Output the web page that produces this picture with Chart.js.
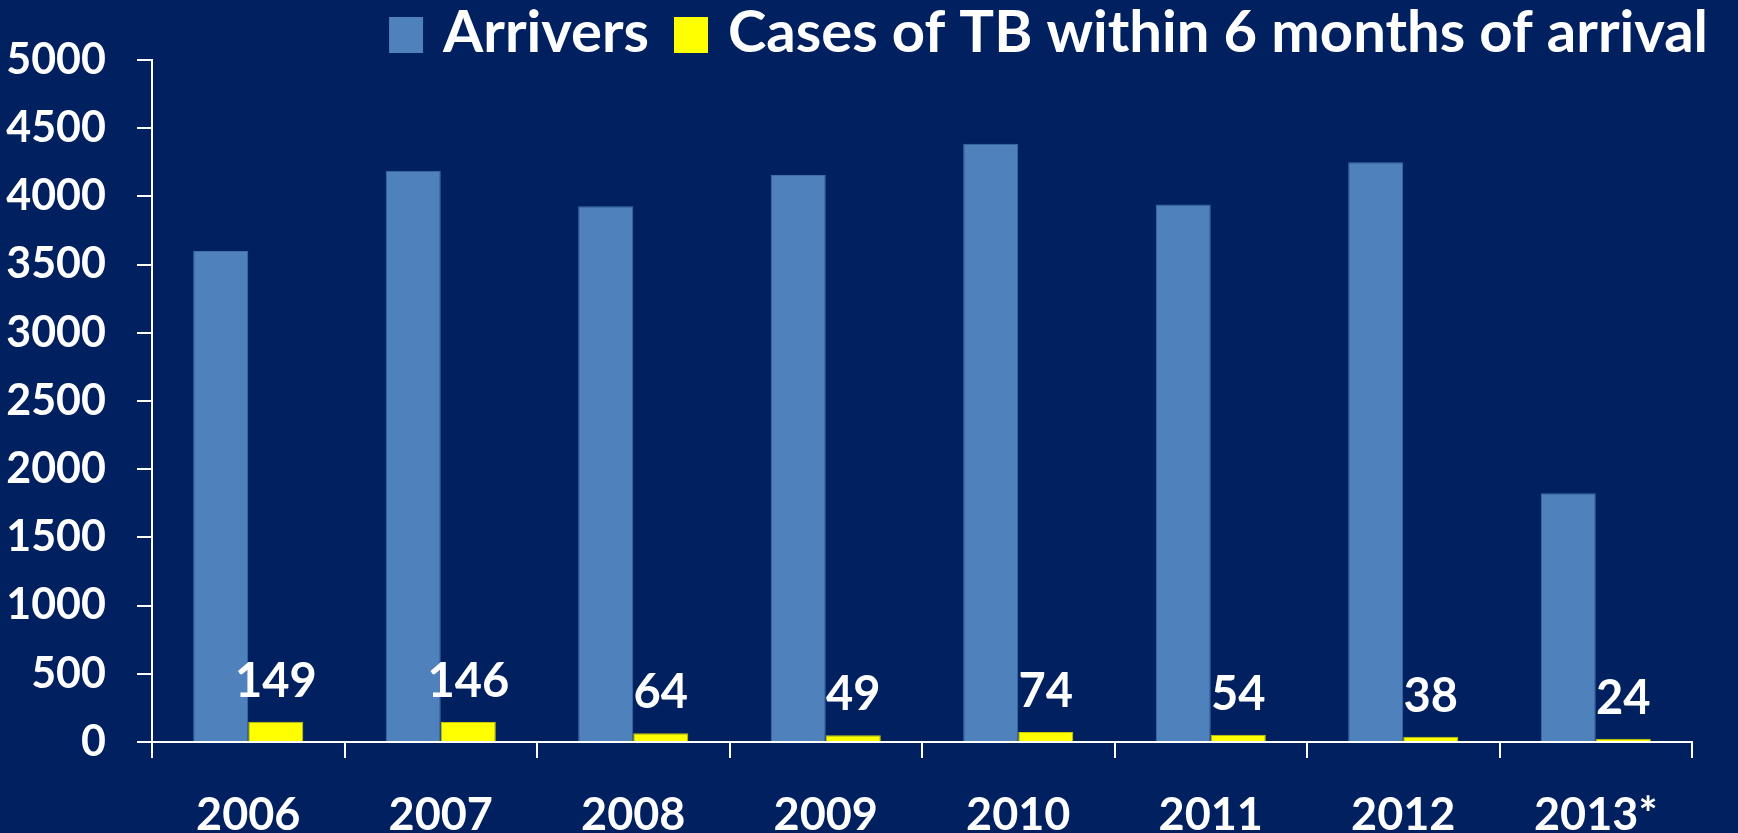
<!DOCTYPE html>
<html>
<head>
<meta charset="utf-8">
<script src="https://cdn.jsdelivr.net/npm/chart.js@4.4.1/dist/chart.umd.min.js"></script>
<style>
  html, body { margin: 0; padding: 0; background: #002060; }
  #wrap { width: 1738px; height: 833px; }
</style>
</head>
<body>
<div id="wrap"><canvas id="tbChart" width="1738" height="833"></canvas></div>
<script>
// ---- data ----
const years = ['2006', '2007', '2008', '2009', '2010', '2011', '2012', '2013*'];
const arrivers = [3600, 4188, 3927, 4156, 4386, 3941, 4250, 1824];
const tbCases = [149, 146, 64, 49, 74, 54, 38, 24];
const yTicks = [0, 500, 1000, 1500, 2000, 2500, 3000, 3500, 4000, 4500, 5000];

const FONT = 'Lato, "Open Sans", sans-serif';
const BLUE = '#4F81BD';
const YELLOW = '#FFFF00';

// legend drawn by hand so it sits where the slide had it
const topLegend = {
    id: 'topLegend',
    afterDraw(chart) {
        const ctx = chart.ctx;
        const items = chart.data.datasets.map(d => ({ label: d.label, color: d.backgroundColor }));
        ctx.save();
        ctx.font = 'bold 58px ' + FONT;
        ctx.textBaseline = 'alphabetic';
        ctx.textAlign = 'left';
        const boxW = 34, boxH = 36, gapText = 20, gapItem = 25;
        let total = 0;
        items.forEach((it, i) => {
            it.w = ctx.measureText(it.label).width;
            total += boxW + gapText + it.w + (i ? gapItem : 0);
        });
        let x = 1708 - total;
        items.forEach((it, i) => {
            if (i) x += gapItem;
            ctx.fillStyle = it.color;
            ctx.fillRect(x, 17, boxW, boxH);
            x += boxW + gapText;
            ctx.fillStyle = '#FFFFFF';
            ctx.fillText(it.label, x, 52);
            x += it.w;
        });
        ctx.restore();
    }
};

// value labels over the yellow bars
const caseLabels = {
    id: 'caseLabels',
    afterDatasetsDraw(chart) {
        const ctx = chart.ctx;
        const meta = chart.getDatasetMeta(1);
        ctx.save();
        ctx.font = 'bold 47px ' + FONT;
        ctx.fillStyle = '#FFFFFF';
        ctx.textAlign = 'center';
        ctx.textBaseline = 'alphabetic';
        meta.data.forEach((bar, i) => {
            ctx.fillText(String(tbCases[i]), bar.x, bar.y - 25);
        });
        ctx.restore();
    }
};

new Chart(document.getElementById('tbChart'), {
    type: 'bar',
    data: {
        labels: years,
        datasets: [
            {
                label: 'Arrivers',
                data: arrivers,
                backgroundColor: BLUE,
                borderColor: '#3F6FA6',
                borderWidth: 1,
                categoryPercentage: 0.572,
                barPercentage: 1
            },
            {
                label: 'Cases of TB within 6 months of arrival',
                data: tbCases,
                backgroundColor: YELLOW,
                borderColor: '#C8C800',
                borderWidth: 1,
                categoryPercentage: 0.572,
                barPercentage: 1
            }
        ]
    },
    options: {
        responsive: false,
        animation: false,
        layout: { padding: { top: 60, right: 46, bottom: 0, left: 0 } },
        plugins: {
            legend: { display: false },
            tooltip: { enabled: false }
        },
        scales: {
            x: {
                grid: { display: true, drawOnChartArea: false, drawTicks: true, tickLength: 16, color: '#FFFFFF', lineWidth: 2 },
                border: { display: true, color: '#FFFFFF', width: 2 },
                ticks: { color: '#FFFFFF', font: { family: FONT, size: 45, weight: 'bold' }, padding: 30, maxRotation: 0 },
                afterFit(scale) { scale.height = 91; }
            },
            y: {
                min: 0,
                max: 5000,
                afterBuildTicks(scale) { scale.ticks = yTicks.map(v => ({ value: v })); },
                grid: { display: true, drawOnChartArea: false, drawTicks: true, tickLength: 15, color: '#FFFFFF', lineWidth: 2 },
                border: { display: true, color: '#FFFFFF', width: 2 },
                ticks: {
                    color: '#FFFFFF',
                    font: { family: FONT, size: 43, weight: 'bold' },
                    padding: 31,
                    callback: v => String(v)
                },
                afterFit(scale) { scale.width = 152; }
            }
        }
    },
    plugins: [topLegend, caseLabels]
});
</script>
</body>
</html>
